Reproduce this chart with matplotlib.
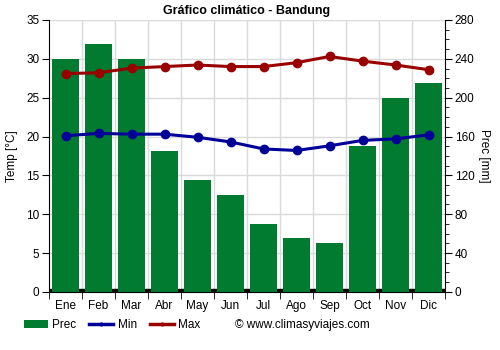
import matplotlib
matplotlib.use("Agg")
import matplotlib.pyplot as plt
from matplotlib.patches import Patch
from matplotlib.lines import Line2D
import numpy as np

plt.rcParams['font.family'] = ['Liberation Sans', 'DejaVu Sans']

months = ["Ene", "Feb", "Mar", "Abr", "May", "Jun", "Jul", "Ago", "Sep", "Oct", "Nov", "Dic"]
prec = [240, 255, 240, 145, 115, 100, 70, 56, 50, 150, 200, 215]
t_min = [20.1, 20.4, 20.3, 20.3, 19.9, 19.3, 18.4, 18.2, 18.8, 19.5, 19.7, 20.2]
t_max = [28.1, 28.2, 28.8, 29.0, 29.2, 29.0, 29.0, 29.5, 30.3, 29.7, 29.2, 28.6]

green = "#007b30"
blue = "#000099"
red = "#990000"
grid_c = "#dadada"

fig = plt.figure(figsize=(5, 3.5), dpi=100)
ax = fig.add_axes([0.098, 0.166, 0.792, 0.777])
ax2 = ax.twinx()

x = np.arange(len(months))

# precipitation bars on the right-hand axis
ax2.axhspan(0, 3, color="black", zorder=1)
ax2.bar(x, prec, width=0.8, color=green, zorder=2)
ax2.set_ylim(0, 280)
ax2.set_yticks(np.arange(0, 281, 40))
ax2.set_yticks(np.arange(0, 281, 10), minor=True)
ax2.tick_params(axis="y", which="major", length=5, labelsize=8.5, direction="out", pad=2)
ax2.tick_params(axis="y", which="minor", length=3, direction="out")
ax2.set_ylabel("Prec [mm]", rotation=270, labelpad=11, fontsize=8.5)

# temperature lines on the left-hand axis, drawn above the bars
ax.set_zorder(ax2.get_zorder() + 1)
ax.patch.set_visible(False)
ax2.patch.set_visible(True)
ax2.patch.set_facecolor("white")

ax.plot(x, t_min, color=blue, lw=2.2, marker="o", ms=6, zorder=5)
ax.plot(x, t_max, color=red, lw=2.2, marker="o", ms=6, zorder=5)
ax.set_ylim(0, 35)
ax.set_yticks(np.arange(0, 36, 5))
ax.tick_params(axis="y", length=5, labelsize=8.5, direction="out", pad=2)
ax.set_ylabel("Temp [°C]", fontsize=8.5, labelpad=6)

ax.set_xlim(-0.5, 11.5)
ax.set_xticks(x)
ax.set_xticklabels(months, fontsize=8.5)
ax.set_xticks(np.arange(-0.5, 12, 1), minor=True)
ax.tick_params(axis="x", which="major", length=0, pad=6)
ax.tick_params(axis="x", which="minor", length=5, direction="out")

# grid drawn on the bar axis so it stays behind the bars
ax2.set_xlim(-0.5, 11.5)
for yv in np.arange(5, 36, 5):
    ax2.axhline(yv * 8, color=grid_c, lw=1, zorder=0)
for xv in np.arange(0.5, 11, 1):
    ax2.axvline(xv, color=grid_c, lw=1, zorder=0)

for a in (ax, ax2):
    a.spines["top"].set_visible(False)
ax.spines["right"].set_visible(False)
ax2.spines["left"].set_visible(False)
ax2.spines["bottom"].set_visible(False)

ax.set_title("Gráfico climático - Bandung", fontsize=9, fontweight="bold", pad=4)

handles = [
    Patch(facecolor=green, edgecolor="none"),
    Line2D([0], [0], color=blue, lw=2.5, marker="o", ms=2),
    Line2D([0], [0], color=red, lw=2.5, marker="o", ms=2),
]
fig.legend(handles, ["Prec", "Min", "Max"], loc="center left", bbox_to_anchor=(0.048, 0.071),
           ncol=3, frameon=False, fontsize=8.5, handlelength=2.0, columnspacing=1.1,
           handletextpad=0.4, borderpad=0, borderaxespad=0)
fig.text(0.47, 0.071, "© www.climasyviajes.com", fontsize=8.5, va="center")

fig.savefig("out.png", dpi=100)
